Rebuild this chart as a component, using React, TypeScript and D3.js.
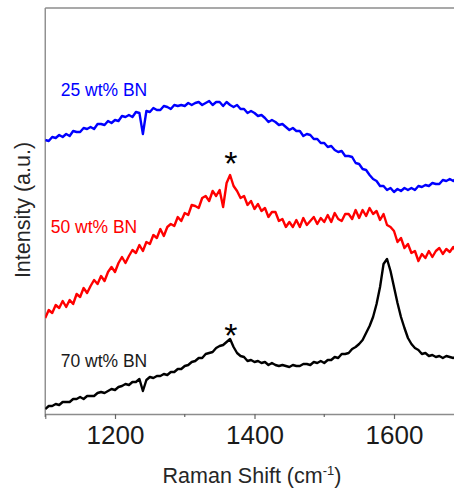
import React, { useEffect, useRef } from 'react'
import { axisBottom, line, range, scaleLinear, select } from 'd3'

// Raman shift grid (cm-1), one reading every 5 cm-1
const shifts = range(1100, 1701, 5)

// 25 wt% BN (blue)
const bn25 = [
  274, 273, 277, 276, 279, 277, 280, 278, 283, 282,
  282, 286, 285, 287, 285, 290, 290, 289, 293, 291,
  294, 293, 298, 297, 299, 297, 302, 301, 280, 303,
  302, 306, 304, 304, 308, 307, 305, 309, 308, 309,
  308, 311, 309, 311, 312, 309, 311, 313, 309, 312,
  312, 308, 312, 309, 307, 309, 305, 305, 301, 303,
  301, 298, 299, 296, 292, 294, 292, 289, 290, 287,
  284, 286, 283, 283, 278, 280, 279, 275, 275, 271,
  271, 267, 268, 264, 262, 263, 258, 258, 257, 251,
  250, 245, 244, 239, 235, 233, 228, 228, 224, 226,
  222, 225, 223, 226, 224, 226, 224, 228, 227, 229,
  228, 231, 230, 230, 234, 233, 235, 233, 236, 237,
  235,
]

// 50 wt% BN (red)
const bn50 = [
  96, 104, 101, 109, 106, 113, 107, 114, 110, 120,
  117, 126, 121, 128, 134, 130, 138, 133, 142, 147,
  142, 151, 157, 151, 158, 164, 161, 169, 163, 172,
  170, 179, 176, 185, 178, 187, 190, 188, 197, 193,
  201, 199, 209, 208, 206, 216, 218, 213, 223, 218,
  224, 207, 231, 239, 228, 223, 216, 218, 209, 213,
  205, 210, 203, 206, 197, 202, 202, 193, 195, 187,
  192, 187, 194, 187, 196, 189, 193, 197, 190, 196,
  192, 199, 192, 201, 195, 193, 200, 200, 195, 204,
  196, 204, 198, 206, 200, 203, 194, 200, 189, 187,
  183, 172, 176, 166, 170, 161, 163, 153, 160, 156,
  163, 157, 163, 166, 160, 165, 162, 167, 161, 167,
  165,
]

// 70 wt% BN (black)
const bn70 = [
  5, 8, 8, 10, 9, 12, 12, 12, 15, 15,
  17, 15, 18, 18, 18, 21, 22, 21, 23, 25,
  24, 27, 28, 30, 29, 32, 32, 35, 23, 34,
  37, 36, 38, 38, 40, 39, 42, 42, 45, 45,
  48, 49, 52, 53, 56, 56, 60, 61, 62, 66,
  68, 69, 72, 75, 67, 61, 58, 57, 53, 54,
  52, 53, 51, 52, 49, 51, 49, 48, 49, 48,
  47, 49, 48, 48, 50, 50, 49, 52, 51, 53,
  51, 54, 54, 57, 56, 60, 60, 61, 65, 67,
  70, 74, 81, 88, 97, 110, 127, 150, 155, 143,
  127, 111, 97, 86, 76, 70, 66, 64, 60, 61,
  58, 59, 57, 58, 56, 58, 57, 56, 58, 57,
  57,
]

const majorTicks = [1200, 1400, 1600]
const minorTicks = [1100, 1300, 1500, 1700]
// the two D-band markers (shift, intensity level of the mark's baseline)
const starShifts = [1366, 1366]
const starLevels = [239, 67]

const W = 454
const H = 489
const left = 45.25
const top = 8
const bottom = 414

const font = '"Liberation Sans", Arial, sans-serif'

const App = () => {
  const axisRef = useRef<SVGGElement>(null)

  const x = scaleLinear().domain([1100, 1700]).range([left, left + 600 * 0.6975])
  const y = scaleLinear().domain([0, bottom - top]).range([bottom, top])

  const path = line<number>()
    .x((d, i) => x(shifts[i]))
    .y((d) => y(d))

  useEffect(() => {
    const g = select(axisRef.current)
    g.call(axisBottom(x).tickValues(majorTicks).tickSize(5).tickPadding(6).tickFormat((d) => String(d)))
    g.select('.domain').attr('stroke', '#8c8c8c').attr('stroke-width', 1.4)
    g.selectAll('.tick line').attr('stroke', '#666').attr('stroke-width', 1.2)
    g.selectAll('.tick text')
      .attr('font-family', font)
      .attr('font-size', 26)
      .attr('fill', '#1a1a1a')
      .attr('dy', null)
      .attr('y', 30)
    g.selectAll('.minor')
      .data(minorTicks)
      .join('line')
      .attr('class', 'minor')
      .attr('x1', (d) => x(d))
      .attr('x2', (d) => x(d))
      .attr('y1', 0)
      .attr('y2', 3)
      .attr('stroke', '#666')
      .attr('stroke-width', 1.2)
  }, [])

  return (
    <svg width={W} height={H} style={{ position: 'absolute', left: 0, top: 0, background: '#fff' }}>
      <defs>
        <clipPath id="plot">
          <rect x={left} y={top} width={x(1700) - left} height={bottom - top} />
        </clipPath>
      </defs>
      <line x1={left} x2={W} y1={top} y2={top} stroke="#8c8c8c" strokeWidth={1.4} />
      <line x1={left} x2={left} y1={top} y2={bottom} stroke="#8c8c8c" strokeWidth={1.4} />
      <g clipPath="url(#plot)" fill="none" strokeWidth={2.4} strokeLinejoin="round">
        <path d={path(bn25) ?? ''} stroke="#0000ff" />
        <path d={path(bn50) ?? ''} stroke="#ff0000" />
        <path d={path(bn70) ?? ''} stroke="#000000" />
      </g>
      <g ref={axisRef} transform={`translate(0,${bottom})`} />

      <g fontFamily={font} fontSize={17.5}>
        <text x={60.7} y={95.7} fill="#0000ff">25 wt% BN</text>
        <text x={50.7} y={233} fill="#ff0000">50 wt% BN</text>
        <text x={60.7} y={366.7} fill="#1a1a1a">70 wt% BN</text>
      </g>

      {starShifts.map((s, i) => (
        <text key={i} x={x(s)} y={y(starLevels[i])} fontFamily={font} fontSize={34} textAnchor="middle" fill="#000">*</text>
      ))}

      <text
        transform="translate(30,210) rotate(-90)"
        textAnchor="middle"
        fontFamily={font}
        fontSize={21.5}
        fill="#262626"
      >
        Intensity (a.u.)
      </text>
      <text x={252} y={483} textAnchor="middle" fontFamily={font} fontSize={21.5} fill="#262626">
        Raman Shift (cm<tspan dy={-8} fontSize={13}>-1</tspan><tspan dy={8}>)</tspan>
      </text>
    </svg>
  )
}

export default App
